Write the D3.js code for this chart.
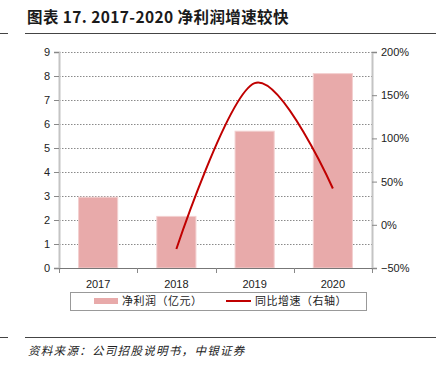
<!DOCTYPE html>
<html lang="zh">
<head>
<meta charset="UTF-8">
<title>图表 17. 2017-2020 净利润增速较快</title>
<script src="https://d3js.org/d3.v7.min.js"></script>
<style>
  body { margin: 0; background: #fff; }
  text { font-family: "Liberation Sans", Arial, sans-serif; }
  .cjk { font-family: "Noto Sans CJK SC", sans-serif; }
</style>
</head>
<body>
<div id="chart"></div>
<script>
// data
var years = ["2017", "2018", "2019", "2020"];
var profit = [2.95, 2.15, 5.7, 8.1];          // 净利润（亿元）
var growthYears = ["2018", "2019", "2020"];
var growth = [-0.28, 1.64, 0.42];             // 同比增速（右轴）
var leftTicks = [0, 1, 2, 3, 4, 5, 6, 7, 8, 9];
var rightTicks = [-0.5, 0, 0.5, 1, 1.5, 2];

var W = 436, H = 368;
var plot = {left: 59, right: 372, top: 52, bottom: 268};

var svg = d3.select("#chart").append("svg")
    .attr("width", W)
    .attr("height", H);

// title + rules
svg.append("text")
    .attr("class", "cjk")
    .attr("x", 27)
    .attr("y", 23)
    .style("font-size", "15.5px")
    .style("font-weight", "bold")
    .style("letter-spacing", "0.4px")
    .attr("fill", "#1a1a1a")
    .text("图表 17. 2017-2020 净利润增速较快");

[33.5, 337.5].forEach(function (yy) {
    svg.append("line").attr("x1", 0).attr("x2", 8).attr("y1", yy).attr("y2", yy)
        .attr("stroke", "#444").attr("stroke-width", 1);
    svg.append("line").attr("x1", 25).attr("x2", W).attr("y1", yy).attr("y2", yy)
        .attr("stroke", "#444").attr("stroke-width", 1);
});

svg.append("text")
    .attr("class", "cjk")
    .attr("x", 28)
    .attr("y", 355)
    .style("font-size", "11.5px")
    .style("font-style", "italic")
    .style("letter-spacing", "1.3px")
    .attr("fill", "#222")
    .text("资料来源：公司招股说明书，中银证券");

var x = d3.scaleBand()
    .domain(years)
    .range([plot.left, plot.right])
    .paddingInner(0.5)
    .paddingOuter(0.25);

var y = d3.scaleLinear()
    .domain([0, 9])
    .range([plot.bottom, plot.top]);

var y2 = d3.scaleLinear()
    .domain([-0.5, 2])
    .range([plot.bottom, plot.top]);

// gridlines
svg.append("g")
    .selectAll("line")
    .data(leftTicks.slice(1))
    .enter().append("line")
    .attr("x1", plot.left)
    .attr("x2", plot.right)
    .attr("y1", d => Math.round(y(d)) + 0.5)
    .attr("y2", d => Math.round(y(d)) + 0.5)
    .attr("stroke", "#8a8a8a")
    .attr("stroke-width", 1)
    .attr("stroke-dasharray", "1.5,1.5");

// bars
svg.append("g")
    .selectAll("rect")
    .data(profit)
    .enter().append("rect")
    .attr("x", (d, i) => x(years[i]))
    .attr("y", d => y(d))
    .attr("width", x.bandwidth())
    .attr("height", d => y(0) - y(d))
    .attr("fill", "#e8aaaa")
    .attr("stroke", "#f3d0d0")
    .attr("stroke-width", 1);

// left axis
var leftAxis = svg.append("g")
    .attr("transform", "translate(" + plot.left + ",0)")
    .call(d3.axisLeft(y).tickValues(leftTicks).tickSize(5).tickPadding(4).tickFormat(d3.format("d")));
leftAxis.select(".domain").attr("stroke", "#c4c4c4").attr("stroke-width", 2);
leftAxis.selectAll(".tick line").attr("stroke", "#888");
leftAxis.selectAll("text").style("font-size", "11px").attr("fill", "#222");

// right axis
var rightAxis = svg.append("g")
    .attr("transform", "translate(" + plot.right + ",0)")
    .call(d3.axisRight(y2).tickValues(rightTicks).tickSize(5).tickPadding(4).tickFormat(d3.format(".0%")));
rightAxis.select(".domain").attr("stroke", "#c4c4c4").attr("stroke-width", 2);
rightAxis.selectAll(".tick line").attr("stroke", "#888");
rightAxis.selectAll("text").style("font-size", "11px").attr("fill", "#222");

// bottom axis
var xBoundary = d3.scaleLinear().domain([0, years.length]).range([plot.left, plot.right]);
svg.append("line")
    .attr("x1", plot.left).attr("x2", plot.right)
    .attr("y1", plot.bottom + 0.5).attr("y2", plot.bottom + 0.5)
    .attr("stroke", "#777");
svg.append("g")
    .selectAll("line")
    .data(d3.range(years.length + 1))
    .enter().append("line")
    .attr("x1", d => Math.round(xBoundary(d)) + 0.5)
    .attr("x2", d => Math.round(xBoundary(d)) + 0.5)
    .attr("y1", plot.bottom)
    .attr("y2", plot.bottom + 5)
    .attr("stroke", "#888");
svg.append("g")
    .selectAll("text")
    .data(years)
    .enter().append("text")
    .attr("x", d => x(d) + x.bandwidth() / 2)
    .attr("y", 288)
    .attr("text-anchor", "middle")
    .style("font-size", "11px")
    .attr("fill", "#222")
    .text(d => d);

// growth line
var line = d3.line()
    .x((d, i) => x(growthYears[i]) + x.bandwidth() / 2)
    .y(d => y2(d))
    .curve(d3.curveCardinal.tension(0));

svg.append("path")
    .datum(growth)
    .attr("d", line)
    .attr("fill", "none")
    .attr("stroke", "#c00000")
    .attr("stroke-width", 2);

// legend
var lg = svg.append("g");
lg.append("rect")
    .attr("x", 70.5).attr("y", 292.5)
    .attr("width", 296).attr("height", 18)
    .attr("fill", "#fff")
    .attr("stroke", "#999");
lg.append("rect")
    .attr("x", 94).attr("y", 298)
    .attr("width", 24).attr("height", 6)
    .attr("fill", "#e8aaaa");
lg.append("text")
    .attr("class", "cjk")
    .attr("x", 122).attr("y", 305)
    .style("font-size", "11px")
    .style("letter-spacing", "0.5px")
    .attr("fill", "#222")
    .text("净利润（亿元）");
lg.append("line")
    .attr("x1", 226).attr("x2", 251)
    .attr("y1", 301).attr("y2", 301)
    .attr("stroke", "#c00000")
    .attr("stroke-width", 2);
lg.append("text")
    .attr("class", "cjk")
    .attr("x", 255).attr("y", 305)
    .style("font-size", "11px")
    .style("letter-spacing", "0.5px")
    .attr("fill", "#222")
    .text("同比增速（右轴）");
</script>
</body>
</html>
